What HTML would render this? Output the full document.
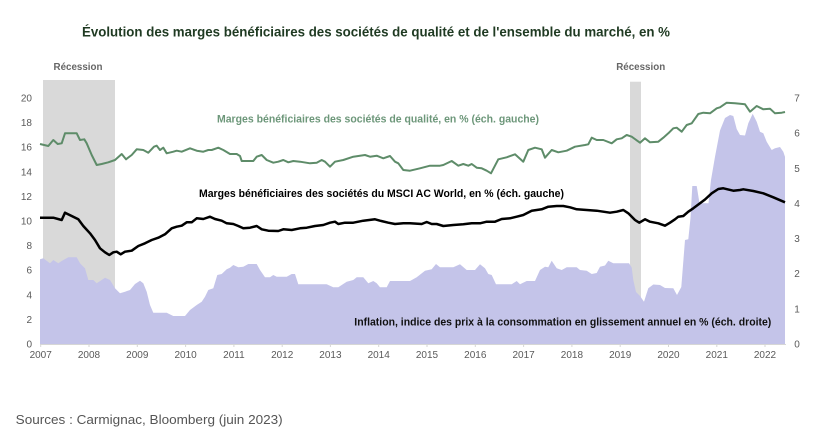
<!DOCTYPE html>
<html><head><meta charset="utf-8"><style>
html,body{margin:0;padding:0;background:#fff;}
svg{display:block;}
text{font-family:"Liberation Sans",Arial,sans-serif;}
</style></head><body>
<svg width="821" height="434" viewBox="0 0 821 434" xmlns="http://www.w3.org/2000/svg">
<rect width="821" height="434" fill="#fff"/>
<text x="82" y="36.5" font-size="14" font-weight="bold" fill="#1f3a22" textLength="588" lengthAdjust="spacingAndGlyphs">Évolution des marges bénéficiaires des sociétés de qualité et de l'ensemble du marché, en %</text>
<!-- recessions -->
<rect x="43" y="80" width="72" height="264" fill="#d9d9d9"/>
<rect x="630" y="81.7" width="11" height="262.3" fill="#d9d9d9"/>
<text x="78" y="70" font-size="10" font-weight="bold" fill="#666" text-anchor="middle" textLength="49" lengthAdjust="spacingAndGlyphs">Récession</text>
<text x="640.7" y="70" font-size="10" font-weight="bold" fill="#666" text-anchor="middle" textLength="49" lengthAdjust="spacingAndGlyphs">Récession</text>
<!-- inflation area -->
<polygon fill="#c4c4e9" points="40,259.3 43.3,258.3 50,263.3 53.3,260 58.3,263.3 61.7,261 68.3,257.3 76.7,257.3 80,263.3 85,268.3 88.3,280 93.3,280 96.7,283.3 101.7,280 105,277.7 110,280 115,288.3 120,293.3 125,291.7 130,290 135,284 140,280.7 143.3,283.3 146.7,291.7 150,305 153.3,312.7 166.7,312.7 173.3,316 185,316 190,310 196.7,305 201.7,301.7 205,296.7 208.3,290 213.3,288.3 217.3,275 221.7,274 226.7,269.3 230,267.7 233.3,265 238.3,267.3 243.3,266.7 248.3,264 256.7,264 260,270 265,277.3 270,277.3 273.3,275 276.7,276.7 286.7,276.7 291.7,274 295,274 298.3,284.3 326.7,284.3 333.3,287.3 338.3,287.3 346.7,281.7 353.3,280 356.7,277.3 363.3,277.3 368.3,283.3 373.3,281 376.7,283.3 380,287.3 386.7,287.3 390,281 410,281 416.7,277.3 425,270.7 431.7,269.3 436,264 440,267.3 453.3,267.3 460,264.3 466.7,270 475,270 480,264.3 485,268.3 488.3,274 491.7,275 496,284.3 511.7,284.3 516.7,281 520,284.3 526.7,281 535,281 540,270 545,266.7 548.3,267.3 551.7,260.7 556.7,268.3 561.7,270 566.7,267.3 576.7,267.3 580,270 586.7,270.7 591.7,274 596.7,273 600,266.7 605,265.5 608.3,260.7 613.3,263.3 629,263.3 631.7,267.5 633.3,280 636,292 640,296 644,301.7 648.3,288.3 653.3,284.5 660,285 665,288 673.3,288.3 677,295 681.3,287 685,240 688.3,239.3 690.5,218 692.3,186 696.7,186 699.5,203.3 708.5,203.3 711,180 715,156.7 720,130.5 725,118 730,115 733.3,116 736.7,129 740,135 745,135.5 748.3,123.3 752.7,113.7 756.7,121.7 760,131.7 763.3,133.3 766.7,141.7 771.7,150 775,148.3 780,147 783.3,151.7 785,156.7 785,344 40,344"/>
<!-- axis -->
<line x1="40" y1="344.5" x2="786" y2="344.5" stroke="#d6d6d6" stroke-width="1"/>
<g stroke="#d6d6d6" stroke-width="1">
<line x1="40.7" y1="344" x2="40.7" y2="347"/><line x1="89" y1="344" x2="89" y2="347"/><line x1="137.3" y1="344" x2="137.3" y2="347"/><line x1="185.6" y1="344" x2="185.6" y2="347"/><line x1="233.9" y1="344" x2="233.9" y2="347"/><line x1="282.2" y1="344" x2="282.2" y2="347"/><line x1="330.4" y1="344" x2="330.4" y2="347"/><line x1="378.7" y1="344" x2="378.7" y2="347"/><line x1="427" y1="344" x2="427" y2="347"/><line x1="475.3" y1="344" x2="475.3" y2="347"/><line x1="523.6" y1="344" x2="523.6" y2="347"/><line x1="571.9" y1="344" x2="571.9" y2="347"/><line x1="620.2" y1="344" x2="620.2" y2="347"/><line x1="668.5" y1="344" x2="668.5" y2="347"/><line x1="716.8" y1="344" x2="716.8" y2="347"/><line x1="765" y1="344" x2="765" y2="347"/>
</g>
<!-- quality line -->
<polyline fill="none" stroke="#5e8c69" stroke-width="2" stroke-linejoin="round" points="40,144 48.3,146 53.3,140 57.7,144 61.7,143.3 65,133.3 71.7,133.3 76.7,133.3 80,140 84.3,139.3 86.7,143.3 91.7,155 96.7,165 101.7,164 108.3,162.3 115,160 121.7,154 126,159.3 131.7,155 136.7,149.3 143.3,150 148.3,152.7 154,146.7 156.7,145.7 160,150 163.3,147.7 166.7,153.3 173.3,151.7 176.7,150.7 181.7,151.7 190,148.3 196.7,150.7 203.3,151.7 208.3,150 211.7,150 218.3,147.7 223.3,150 230,154 236.7,154 240,156 241.7,161 253.3,161 256.7,156.7 261.7,155 266.7,160 273.3,162.7 278.3,161.7 283.3,160 288.3,162.3 293.3,161 300,161.7 310,163.3 316.7,162.7 321.7,160 325,161.7 330,166.7 335,161.7 343.3,160 353.3,156.7 365,155 370,156.7 376.7,155.7 383.3,158.3 390,156 395,161.7 398.3,163.3 403.3,170 410,170.7 420,168.3 430,165.7 440,165.7 443.3,165 451.7,161 458.3,165.7 463.3,164 468.3,165.7 471.7,164 476.7,167.7 481.7,168.3 486.7,170.7 491,173.3 498.3,159.3 506.7,157.3 515,154.3 523.3,161.7 528.3,150 535,147.7 541.7,149.3 545,157.7 551.7,150 558.3,152.3 566.7,150.7 575,146.7 585,145 588.3,144.3 591.7,137.7 596.7,140 603.3,140 611.7,143.3 616.7,139.3 621.7,138.3 626.7,135 631.7,136.7 640,142.7 645,138.3 650,142.3 658.3,141.7 663.3,137.7 668.3,133.3 673.3,128.3 676.7,127.7 681.7,131.7 686.7,125 691.7,123.3 698.3,114 703.3,112.7 710,113.3 716.7,108.3 720,107.3 726.7,102.7 735,103.3 745,104.3 750,111.7 756.7,106 763.3,109.3 770,108.7 775,113.3 781.7,112.7 785,112"/>
<!-- MSCI line -->
<polyline fill="none" stroke="#000" stroke-width="2.5" stroke-linejoin="round" points="40,217.7 53.3,217.7 61.7,220 65,212.7 71.7,216 78.3,219.3 83.3,226 90,233.3 95,240 100,248.3 105,252.3 109.3,255 113.3,252.3 116.7,251.7 120.7,254.3 125,251.7 131.7,250.7 138.3,246 145,243.3 151.7,240 158.3,237.7 165,234.3 171.7,228.3 176.7,226.7 181.7,225.7 186.7,222.3 191.7,222.3 196.7,218.3 203.3,219 210,216.7 215,219 221.7,220.7 226.7,223.3 233.3,224 238.3,226 243.3,228.3 250,227.7 256.7,226 261.7,229.3 268.3,230.7 278.3,231 283.3,229.3 291.7,230 300,228.3 306.7,227.7 315,226 323.3,225 330,222.7 335,221.7 338.3,224 345,222.7 353.3,222.7 363.3,220.7 375,219.3 380,220.7 388.3,222.7 395,224 403.3,223.3 410,223.3 421.7,224 426.7,222 431.7,224 436.7,224 443.3,226 453.3,225 463.3,224.3 471.7,223.3 480,223.3 486.7,221.7 495,221.7 501.7,219 510,218.3 516.7,216.7 523.3,215 531.7,210.7 541.7,209.3 548.3,206.7 556.7,206 563.3,206 570,207.3 576.7,209.3 586.7,210 596.7,210.7 610,212.7 616.7,211.7 623.3,210 628.3,213.3 635,220 639.3,222.7 645,219.3 650,221.7 658.3,223.3 665,225.7 670,222.7 675,219.3 678.3,216.7 683.3,216 688.3,211.7 693.3,208.3 700,203.3 705,199.5 711.7,193.3 718.3,189 723.3,188.3 733.3,190.7 740,190 743.3,189.3 753.3,191 763.3,193.3 773.3,197.3 785,202.3"/>
<!-- series labels -->
<text x="217" y="122.5" font-size="11" font-weight="bold" fill="#6d977a" textLength="322" lengthAdjust="spacingAndGlyphs">Marges bénéficiaires des sociétés de qualité, en % (éch. gauche)</text>
<text x="199" y="197" font-size="11" font-weight="bold" fill="#000" textLength="365" lengthAdjust="spacingAndGlyphs">Marges bénéficiaires des sociétés du MSCI AC World, en % (éch. gauche)</text>
<text x="354.3" y="325.5" font-size="11" font-weight="bold" fill="#111" textLength="417" lengthAdjust="spacingAndGlyphs">Inflation, indice des prix à la consommation en glissement annuel en % (éch. droite)</text>
<!-- left ticks -->
<g font-size="10" fill="#5a5a5a" text-anchor="end">
<text x="32" y="101.5">20</text><text x="32" y="126">18</text><text x="32" y="150.7">16</text><text x="32" y="175.3">14</text><text x="32" y="199.9">12</text><text x="32" y="224.5">10</text><text x="32" y="249.1">8</text><text x="32" y="273.7">6</text><text x="32" y="298.3">4</text><text x="32" y="322.9">2</text><text x="32" y="347.5">0</text>
</g>
<!-- right ticks -->
<g font-size="10" fill="#5a5a5a" text-anchor="middle">
<text x="797" y="101.5">7</text><text x="797" y="136.6">6</text><text x="797" y="171.8">5</text><text x="797" y="206.9">4</text><text x="797" y="242.1">3</text><text x="797" y="277.2">2</text><text x="797" y="312.4">1</text><text x="797" y="347.5">0</text>
</g>
<!-- x ticks -->
<g font-size="10" fill="#5a5a5a" text-anchor="middle">
<text x="40.7" y="358">2007</text><text x="89" y="358">2008</text><text x="137.3" y="358">2009</text><text x="185.6" y="358">2010</text><text x="233.9" y="358">2011</text><text x="282.2" y="358">2012</text><text x="330.4" y="358">2013</text><text x="378.7" y="358">2014</text><text x="427" y="358">2015</text><text x="475.3" y="358">2016</text><text x="523.6" y="358">2017</text><text x="571.9" y="358">2018</text><text x="620.2" y="358">2019</text><text x="668.5" y="358">2020</text><text x="716.8" y="358">2021</text><text x="765" y="358">2022</text>
</g>
<text x="15.7" y="424" font-size="13" fill="#555" textLength="267" lengthAdjust="spacingAndGlyphs">Sources : Carmignac, Bloomberg (juin 2023)</text>
</svg>
</body></html>
